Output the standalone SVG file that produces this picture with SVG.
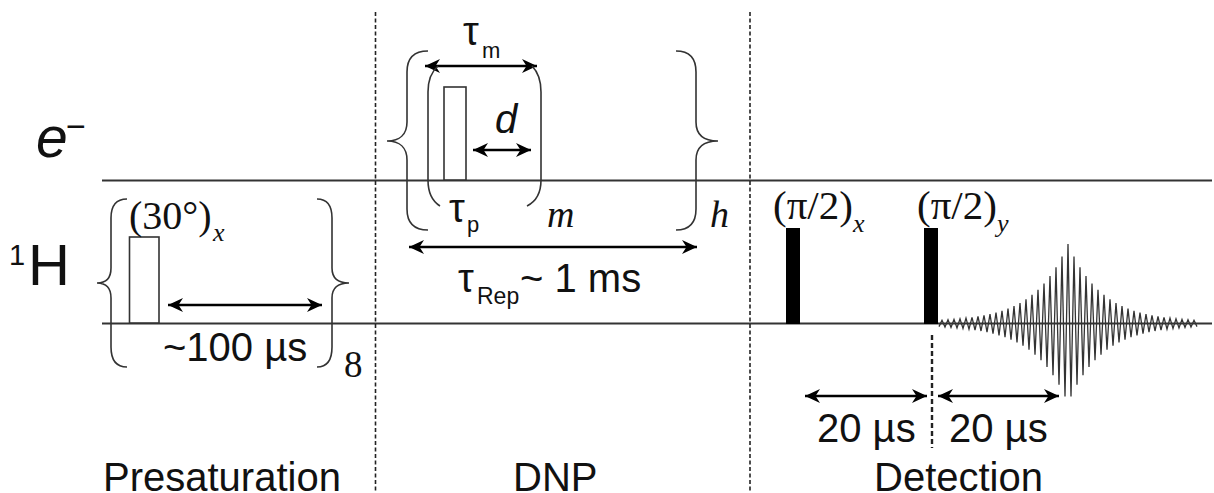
<svg xmlns="http://www.w3.org/2000/svg" width="1214" height="493" viewBox="0 0 1214 493">
<style>
.s{font-family:"Liberation Sans",Arial,sans-serif;fill:#111}
.t{font-family:"Liberation Serif","Times New Roman",serif;fill:#111}
.i{font-style:italic}
.l{fill:none;stroke:#333;stroke-width:2}
.b{fill:none;stroke:#333;stroke-width:1.6}
.a{fill:none;stroke:#000;stroke-width:2.4;marker-start:url(#h);marker-end:url(#h)}
.d{fill:none;stroke:#222;stroke-width:1.6;stroke-dasharray:4 2.5}
.p{fill:#fff;stroke:#333;stroke-width:1.6}
</style>
<defs>
<marker id="h" viewBox="0 0 16 14" refX="15" refY="7" markerWidth="16" markerHeight="14" markerUnits="userSpaceOnUse" orient="auto-start-reverse"><path d="M0 0L15 7L0 14L4.5 7Z" fill="#000"/></marker>
</defs>
<rect width="1214" height="493" fill="#fff"/>
<g id="connectors">
<line class="l" x1="102" y1="180.5" x2="1212" y2="180.5"/>
<line class="l" x1="102" y1="323.5" x2="1212" y2="323.5"/>
<line class="d" x1="375.500" y1="12" x2="375.500" y2="493"/>
<line class="d" x1="750" y1="12" x2="750" y2="493"/>
<line class="d" x1="932" y1="335" x2="932" y2="448" style="stroke-width:2.4;stroke-dasharray:5 3"/>
<line class="a" x1="168" y1="305" x2="322" y2="305"/>
<line class="a" x1="425" y1="66" x2="537" y2="66"/>
<line class="a" x1="473" y1="150" x2="531" y2="150"/>
<line class="a" x1="409" y1="247" x2="697" y2="247"/>
<line class="a" x1="805" y1="396" x2="927" y2="396"/>
<line class="a" x1="938" y1="396" x2="1059" y2="396"/>
</g>
<g id="brace-presaturation">
<path class="b" d="M127 199C116 199 111 206 111 218V268C111 278 106 283 97 283C106 283 111 288 111 298V347C111 360 116 367 127 367"/>
<path class="b" d="M317 199C327 199 332 206 332 218V268C332 278 338 283 349 283C338 283 332 288 332 298V347C332 360 327 367 317 367"/>
</g>
<g id="brace-dnp-h">
<path class="b" d="M428 51C414 51 407 58 407 72V122C407 134 400 141 387 141C400 141 407 148 407 160V209C407 223 414 230 428 230"/>
<path class="b" d="M676 51C690 51 696 58 696 72V122C696 134 703 141 718 141C703 141 696 148 696 160V209C696 223 690 230 676 230"/>
</g>
<g id="paren-dnp-m">
<path class="b" d="M438 66C431 72 428 80 428 92V180C428 192 432 201 440 206"/>
<path class="b" d="M532 66C538 72 541 80 541 92V180C541 192 537 201 527 206"/>
</g>
<g id="pulse-e"><rect class="p" x="444" y="87" width="22" height="93"/></g>
<g id="pulse-30"><rect class="p" x="129.500" y="237" width="29.500" height="86"/></g>
<g id="pulse-x"><rect x="786" y="228" width="14" height="96" fill="#000"/></g>
<g id="pulse-y"><rect x="924" y="228" width="14" height="96" fill="#000"/></g>
<g id="echo"><polyline fill="none" stroke="#333" stroke-width="1.300" points="939,326.6 942,320.2 945,327 948,319.8 951,327.4 954,319.4 957,327.9 960,318.8 963,328.5 966,318.1 969,329.2 972,317.4 975,330 978,316.5 981,331 984,315.4 987,332.2 990,314.1 993,333.6 996,312.6 999,335.3 1002,310.8 1005,337.2 1008,308.6 1011,339.6 1014,306.1 1017,342.4 1020,303 1023,345.8 1026,299.3 1029,349.8 1032,294.9 1035,354.6 1038,289.7 1041,360.3 1044,283.5 1047,367 1050,276.1 1053,375.2 1056,267.2 1059,384.8 1062,256.6 1065,396.4 1068,244 1071,396.4 1074,256.6 1077,384.8 1080,267.2 1083,375.2 1086,276.1 1089,367 1092,283.5 1095,360.3 1098,289.7 1101,354.6 1104,294.9 1107,349.8 1110,299.3 1113,345.8 1116,303 1119,342.4 1122,306.1 1125,339.6 1128,308.6 1131,337.2 1134,310.8 1137,335.3 1140,312.6 1143,333.6 1146,314.1 1149,332.2 1152,315.4 1155,331 1158,316.5 1161,330 1164,317.4 1167,329.2 1170,318.1 1173,328.5 1176,318.8 1179,327.9 1182,319.4 1185,327.4 1188,319.8 1191,327 1194,320.2 1197,326.6"/></g>
<g id="labels">
<text class="s i" x="36" y="157" font-size="57">e</text><text class="s" x="66" y="138" font-size="34">−</text>
<text class="s" x="9" y="265" font-size="29">1</text><text class="s" x="28" y="285" font-size="58">H</text>
<text class="t" x="129" y="229" font-size="40">(30°)</text><text class="t i" x="213" y="241" font-size="26">x</text>
<text class="s" x="163" y="361" font-size="40">~100 µs</text>
<text class="t" x="344" y="377" font-size="37">8</text>
<text class="s" x="463" y="45" font-size="40">τ</text><text class="s" x="482" y="58" font-size="22">m</text>
<text class="s i" x="495" y="133" font-size="40">d</text>
<text class="s" x="449" y="222" font-size="40">τ</text><text class="s" x="467" y="232" font-size="22">p</text>
<text class="t i" x="547" y="227" font-size="38">m</text>
<text class="t i" x="710" y="227" font-size="38">h</text>
<text class="s" x="458" y="292" font-size="40">τ</text><text class="s" x="477" y="304" font-size="23">Rep</text><text class="s" x="520" y="292" font-size="40">~ 1 ms</text>
<text class="t" x="773" y="219" font-size="41">(π/2)</text><text class="t i" x="853" y="232" font-size="26">x</text>
<text class="t" x="917" y="219" font-size="41">(π/2)</text><text class="t i" x="997" y="232" font-size="26">y</text>
<text class="s" x="817" y="442" font-size="40">20 µs</text>
<text class="s" x="949" y="442" font-size="40">20 µs</text>
<text class="s" x="103" y="491" font-size="40">Presaturation</text>
<text class="s" x="513" y="491" font-size="40">DNP</text>
<text class="s" x="874" y="491" font-size="40">Detection</text>
</g>
</svg>
